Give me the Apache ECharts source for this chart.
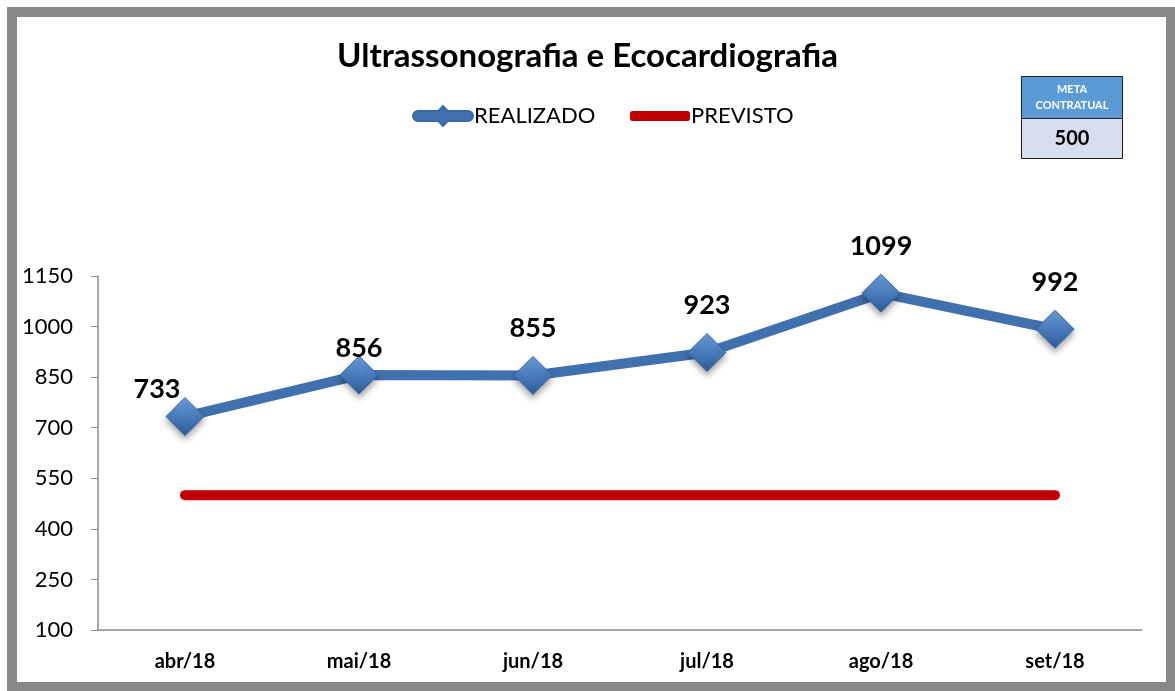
<!DOCTYPE html>
<html>
<head>
<meta charset="utf-8">
<script src="https://cdn.jsdelivr.net/npm/echarts@6/dist/echarts.min.js"></script>
<style>
  html, body { margin: 0; padding: 0; background: #fff; }
  #chart { width: 1175px; height: 691px; }
</style>
</head>
<body>
<div id="chart"></div>
<script>
var meses = ['abr/18', 'mai/18', 'jun/18', 'jul/18', 'ago/18', 'set/18'];
var realizado = [733, 856, 855, 923, 1099, 992];
var previsto = [500, 500, 500, 500, 500, 500];
var metaContratual = 500;

var myChart = echarts.init(document.getElementById('chart'));

// marcador em losango com leve degradê, como no Excel
var azulMarcador = new echarts.graphic.LinearGradient(0, 0, 0, 1, [
  { offset: 0, color: '#6E9FDB' },
  { offset: 0.5, color: '#4A7CC0' },
  { offset: 1, color: '#2C5A94' }
]);

// ícone da legenda: barra grossa com losango no meio
var iconeRealizado = 'path://M5,5 L25.5,5 L30,0 L34.5,5 L55,5 A5,5 0 0 1 55,15 L34.5,15 L30,20 L25.5,15 L5,15 A5,5 0 0 1 5,5 Z';

var dadosRealizado = realizado.map(function (v, i) {
  var item = { value: v };
  if (i === 0) {
    item.label = { position: 'top', offset: [-28, 20] };
  }
  if (i === 1) {
    item.label = { offset: [0, 20] };
  }
  return item;
});

var textoLegenda = { fontFamily: 'Lato', fontSize: 22, color: '#000', padding: [0, 0, 0, -4] };

var option = {
  backgroundColor: '#fff',
  animation: false,
  title: {
    text: 'Ultrassonografia e Ecocardiografia',
    left: 'center',
    top: 35,
    textStyle: { fontFamily: 'Lato', fontWeight: 'bold', fontSize: 33, color: '#000' }
  },
  legend: [
    {
      top: 100,
      left: 407,
      itemWidth: 60,
      itemHeight: 20,
      textStyle: textoLegenda,
      data: [{ name: 'REALIZADO', icon: iconeRealizado, itemStyle: { color: '#4170AE' } }]
    },
    {
      top: 100,
      left: 625,
      itemWidth: 60,
      itemHeight: 10,
      textStyle: textoLegenda,
      data: [{ name: 'PREVISTO', icon: 'roundRect', itemStyle: { color: '#C00000' } }]
    }
  ],
  grid: { left: 98, right: 33, top: 276, bottom: 61 },
  xAxis: {
    type: 'category',
    data: meses,
    boundaryGap: true,
    axisLine: { lineStyle: { color: '#8c8c8c', width: 1.5 } },
    axisTick: { show: false },
    axisLabel: { margin: 22, fontFamily: 'Lato', fontWeight: 'bold', fontSize: 20, color: '#000' }
  },
  yAxis: {
    type: 'value',
    min: 100,
    max: 1150,
    interval: 150,
    splitLine: { show: false },
    axisLine: { show: true, lineStyle: { color: '#8c8c8c', width: 1.5 } },
    axisTick: { show: true, length: 7, lineStyle: { color: '#8c8c8c' } },
    axisLabel: {
      margin: 25,
      fontFamily: 'Lato',
      fontSize: 22,
      color: '#000',
      formatter: function (v) { return String(v); }
    }
  },
  series: [
    {
      name: 'REALIZADO',
      type: 'line',
      data: dadosRealizado,
      symbol: 'diamond',
      symbolSize: 38,
      z: 3,
      lineStyle: { color: '#4170AE', width: 10 },
      itemStyle: {
        color: azulMarcador,
        borderColor: '#3A68A6',
        borderWidth: 1,
        shadowBlur: 6,
        shadowOffsetY: 4,
        shadowColor: 'rgba(0,0,0,0.35)'
      },
      label: {
        show: true,
        position: 'top',
        distance: 14,
        fontFamily: 'Lato',
        fontWeight: 'bold',
        fontSize: 27,
        color: '#000'
      }
    },
    {
      name: 'PREVISTO',
      type: 'line',
      data: previsto,
      symbol: 'none',
      z: 2,
      lineStyle: { color: '#C00000', width: 10, cap: 'round' },
      itemStyle: { color: '#C00000' }
    }
  ],
  graphic: [
    {
      // moldura cinza
      type: 'rect',
      shape: { x: 12, y: 12, width: 1159, height: 675 },
      style: { fill: 'none', stroke: '#888888', lineWidth: 10 },
      z: 100
    },
    {
      type: 'group',
      left: 1021,
      top: 76,
      z: 50,
      children: [
        {
          type: 'rect',
          shape: { x: 0, y: 0, width: 101, height: 42 },
          style: { fill: '#5B9BD5', stroke: '#1F1F1F', lineWidth: 1 }
        },
        {
          type: 'rect',
          shape: { x: 0, y: 42, width: 101, height: 40 },
          style: { fill: '#D6DEEF', stroke: '#1F1F1F', lineWidth: 1 }
        },
        {
          type: 'text',
          x: 50.5,
          y: 21,
          style: {
            text: 'META\nCONTRATUAL',
            align: 'center',
            verticalAlign: 'middle',
            fill: '#fff',
            font: 'bold 11px Lato',
            lineHeight: 16
          }
        },
        {
          type: 'text',
          x: 50.5,
          y: 62,
          style: {
            text: String(metaContratual),
            align: 'center',
            verticalAlign: 'middle',
            fill: '#000',
            font: 'bold 20px Lato'
          }
        }
      ]
    }
  ]
};

myChart.setOption(option);
</script>
</body>
</html>
